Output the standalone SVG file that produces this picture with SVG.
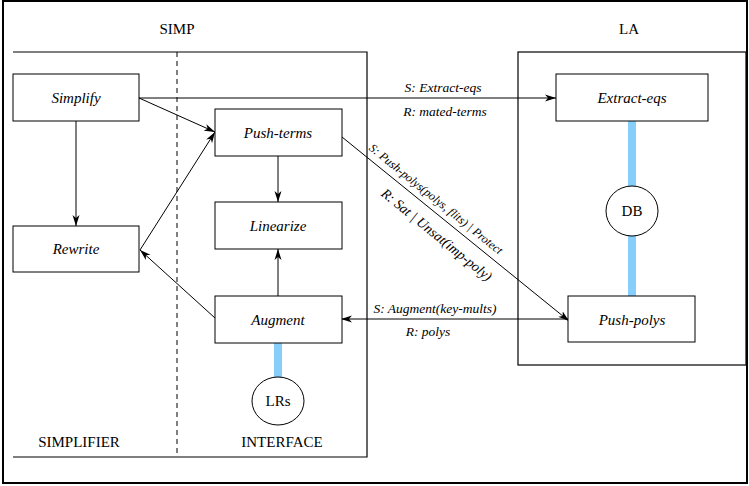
<svg xmlns="http://www.w3.org/2000/svg" width="749" height="486" viewBox="0 0 749 486">
<style>
text{font-family:'Liberation Serif','DejaVu Serif',serif}
.box{fill:#fff;stroke:#000;stroke-width:1}
.frame{fill:none;stroke:#000;stroke-width:1.2}
.lbl{font-style:italic;font-size:15px;text-anchor:middle}
.cap{font-size:15px;text-anchor:middle}
.cl{font-style:italic;font-size:13.5px;text-anchor:middle}
.conn{fill:none;stroke:#000;stroke-width:1;marker-end:url(#ah)}
.bar{stroke:#87cefa;stroke-width:8}
</style>
<defs>
<marker id="ah" markerWidth="12" markerHeight="8" refX="11" refY="4" orient="auto" markerUnits="userSpaceOnUse">
<path d="M0,0.5 L11,4 L0,7.5 L3,4 z" fill="#000"/>
</marker>
</defs>
<rect x="3" y="1" width="744" height="482" fill="#fff" stroke="#000" stroke-width="2"/>
<g id="simp">
<path class="frame" d="M13,52 H367 V457 H13"/>
<line x1="177" y1="52" x2="177" y2="457" stroke="#000" stroke-width="1" stroke-dasharray="5,4"/>
<text class="cap" x="177" y="34" font-family="Liberation Serif, serif">SIMP</text>
<text class="cap" x="79" y="447" font-family="Liberation Serif, serif">SIMPLIFIER</text>
<text class="cap" x="282" y="447" font-family="Liberation Serif, serif">INTERFACE</text>
</g>
<g id="la">
<rect class="frame" x="518" y="52" width="228" height="313"/>
<text class="cap" x="629" y="34" font-family="Liberation Serif, serif">LA</text>
</g>
<g id="bars">
<line class="bar" x1="278" y1="343" x2="278" y2="378"/>
<line class="bar" x1="632" y1="121" x2="632" y2="296"/>
</g>
<g id="connectors">
<line class="conn" x1="139" y1="98" x2="556" y2="98"/>
<line class="conn" x1="139" y1="98" x2="215" y2="132"/>
<line class="conn" x1="140" y1="250" x2="215" y2="132"/>
<line class="conn" x1="76" y1="121" x2="76" y2="226"/>
<line class="conn" x1="215" y1="318" x2="140" y2="250"/>
<line class="conn" x1="278" y1="156" x2="278" y2="202"/>
<line class="conn" x1="278" y1="296" x2="278" y2="249"/>
<line class="conn" x1="568" y1="319" x2="341" y2="319"/>
<line class="conn" x1="342" y1="137" x2="569" y2="321"/>
<text class="cl" x="443" y="92">S: Extract-eqs</text>
<text class="cl" x="445" y="116">R: mated-terms</text>
<text class="cl" x="435" y="313">S: Augment(key-mults)</text>
<text class="cl" x="428" y="336">R: polys</text>
<g transform="translate(440,216.4) rotate(39)">
<text class="cl" style="font-size:12px" x="-14" y="-7">S: Push-polys(polys, flits) | Protect</text>
<text class="cl" style="font-size:14px" x="9" y="21">R: Sat | Unsat(imp-poly)</text>
</g>
</g>
<g id="simplify"><rect class="box" x="13" y="74" width="126" height="47"/><text class="lbl" x="76" y="103">Simplify</text></g>
<g id="rewrite"><rect class="box" x="13" y="226" width="126" height="46"/><text class="lbl" x="76" y="254">Rewrite</text></g>
<g id="push-terms"><rect class="box" x="215" y="109" width="127" height="47"/><text class="lbl" x="278" y="138">Push-terms</text></g>
<g id="linearize"><rect class="box" x="215" y="202" width="127" height="47"/><text class="lbl" x="278" y="231">Linearize</text></g>
<g id="augment"><rect class="box" x="215" y="296" width="127" height="47"/><text class="lbl" x="278" y="325">Augment</text></g>
<g id="lrs"><ellipse class="box" cx="278" cy="401" rx="26" ry="24"/><text class="cap" x="278" y="406">LRs</text></g>
<g id="extract-eqs"><rect class="box" x="556" y="74" width="152" height="47"/><text class="lbl" x="632" y="103">Extract-eqs</text></g>
<g id="db"><ellipse class="box" cx="632" cy="211" rx="26" ry="25"/><text class="cap" x="632" y="216">DB</text></g>
<g id="push-polys"><rect class="box" x="568" y="296" width="127" height="46"/><text class="lbl" x="632" y="325">Push-polys</text></g>
</svg>
